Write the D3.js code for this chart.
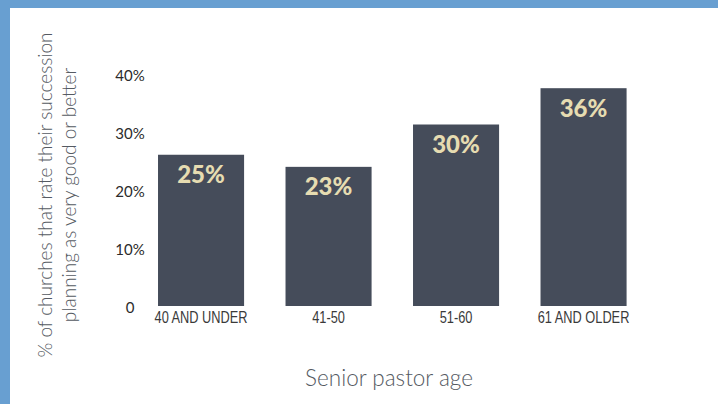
<!DOCTYPE html>
<html>
<head>
<meta charset="utf-8">
<script src="https://cdn.jsdelivr.net/npm/d3@7"></script>
<style>
  html, body { margin: 0; padding: 0; background: #fff; }
  svg { display: block; }
</style>
</head>
<body>
<svg id="chart" width="718" height="404"></svg>
<script>
// Share of churches rating their succession planning very good or better, by senior pastor age
const categories = ["40 AND UNDER", "41-50", "51-60", "61 AND OLDER"];
const values = [25, 23, 30, 36];
const tickValues = [0, 10, 20, 30, 40];
const tickLabels = ["0", "10%", "20%", "30%", "40%"];

const W = 718, H = 404;
const svg = d3.select("#chart");

// frame: blue strip along the top and left edges
svg.append("rect").attr("x", 0).attr("y", 0).attr("width", W).attr("height", H).attr("fill", "#fff");
svg.append("rect").attr("x", 0).attr("y", 0).attr("width", W).attr("height", 8).attr("fill", "#689fd1");
svg.append("rect").attr("x", 0).attr("y", 0).attr("width", 10).attr("height", H).attr("fill", "#689fd1");

const x = d3.scaleBand()
  .domain(categories)
  .range([137.3, 647.3])
  .paddingInner(0.325)
  .paddingOuter(0.1625);

// bar heights
const y = d3.scaleLinear().domain([0, 40]).range([306, 64]);
// tick label placement on the value axis
const yTicks = d3.scaleLinear().domain([0, 40]).range([307, 75]);

// value axis: labels only, no line or tick marks
const yAxis = d3.axisLeft(yTicks)
  .tickValues(tickValues)
  .tickFormat((d, i) => tickLabels[i])
  .tickSize(0)
  .tickPadding(0);

const gy = svg.append("g").attr("transform", "translate(130,0)").call(yAxis);
gy.select(".domain").remove();
gy.selectAll("text")
  .attr("text-anchor", "middle")
  .attr("dy", "0.35em")
  .attr("font-family", "Lato, 'Open Sans', sans-serif")
  .attr("font-size", 15)
  .attr("fill", "#2b2b2b");

// bars
svg.append("g").selectAll("rect")
  .data(values)
  .join("rect")
  .attr("x", (d, i) => x(categories[i]))
  .attr("y", d => y(d))
  .attr("width", x.bandwidth())
  .attr("height", d => y(0) - y(d))
  .attr("fill", "#454c5a");

// value labels inside the top of each bar
svg.append("g").selectAll("text")
  .data(values)
  .join("text")
  .attr("x", (d, i) => x(categories[i]) + x.bandwidth() / 2)
  .attr("y", d => y(d) + 28.5)
  .attr("text-anchor", "middle")
  .attr("font-family", "Lato, 'Open Sans', sans-serif")
  .attr("font-weight", 900)
  .attr("font-size", 24)
  .attr("fill", "#e6dcb1")
  .text(d => d + "%");

// category axis, set in a condensed face
const xAxis = d3.axisBottom(x).tickSize(0).tickPadding(0);
const gx = svg.append("g").attr("transform", "translate(0,312)").call(xAxis);
gx.select(".domain").remove();
gx.selectAll(".tick text")
  .attr("dy", "0.71em")
  .attr("transform", "scale(0.8,1)")
  .attr("font-family", "'Liberation Sans', Arial, sans-serif")
  .attr("font-size", 16)
  .attr("fill", "#3a3a3a");

// axis titles
svg.append("text")
  .attr("x", 389)
  .attr("y", 386)
  .attr("text-anchor", "middle")
  .attr("font-family", "Lato, 'Open Sans', sans-serif")
  .attr("font-weight", 300)
  .attr("font-size", 22.5)
  .attr("fill", "#555a62")
  .text("Senior pastor age");

const yTitle = svg.append("text")
  .attr("transform", "translate(0,195) rotate(-90)")
  .attr("text-anchor", "middle")
  .attr("font-family", "Lato, 'Open Sans', sans-serif")
  .attr("font-weight", 300)
  .attr("font-size", 19)
  .attr("fill", "#555a62");
yTitle.append("tspan").attr("x", 0).attr("y", 52).text("% of churches that rate their succession");
yTitle.append("tspan").attr("x", 0).attr("y", 76).text("planning as very good or better");
</script>
</body>
</html>
